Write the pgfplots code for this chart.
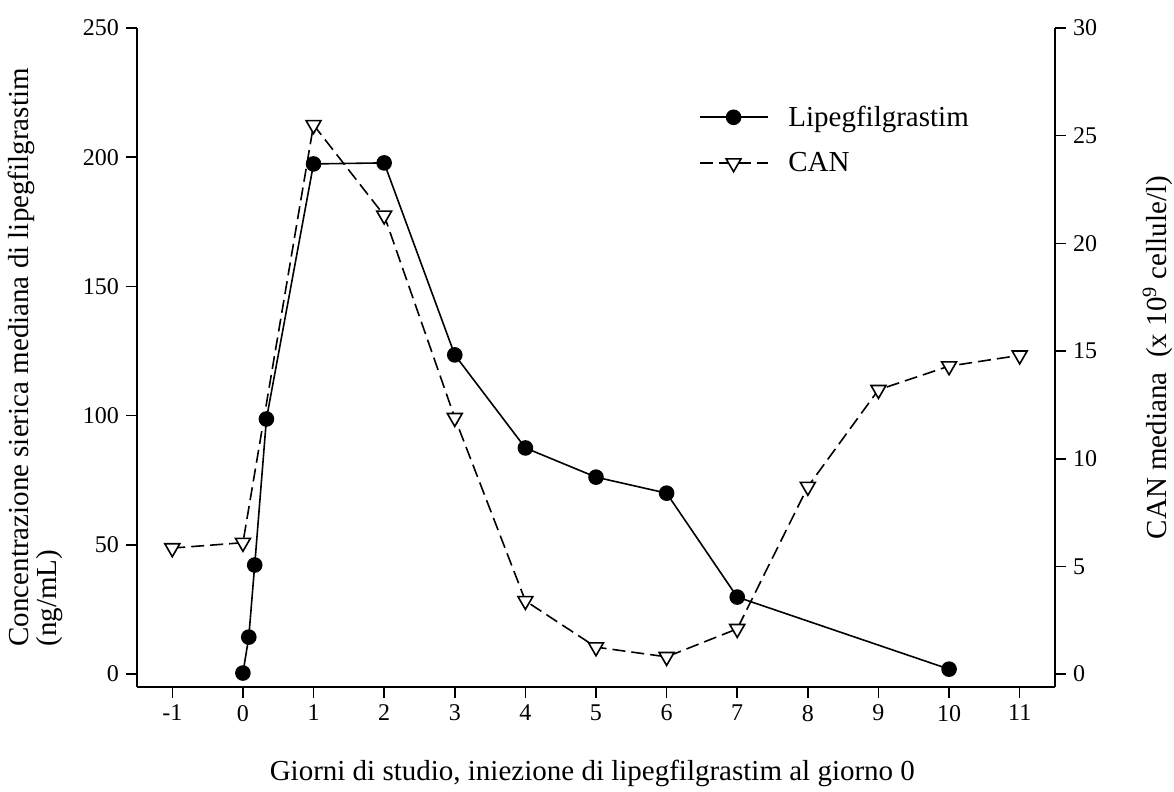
\documentclass[border=0pt]{standalone}
\usepackage{fontspec}
\setmainfont{Liberation Serif}
\usepackage{pgfplots}
\pgfplotsset{compat=1.18}
\begin{document}
\begin{tikzpicture}
\useasboundingbox (-68.5pt,-52.5pt) rectangle (518.5pt,343.5pt);
\pgfplotsset{
  common/.style={
    scale only axis, width=459pt, height=329.5pt,
    xmin=-1.5, xmax=11.5,
    axis line style={line width=0.8pt, -},
    tick align=outside, major tick length=5.5pt,
    tick style={line width=0.8pt, black},
    ticklabel style={font=\fontsize{12}{14}\selectfont},
  },
  legend image code/.code={\draw[mark repeat=2,mark phase=2,#1] plot coordinates {(0pt,0pt) (17pt,0pt) (34pt,0pt)};},
}
\begin{axis}[
  common,
  ymin=-5, ymax=250,
  axis x line*=bottom, axis y line*=left,
  xtick={-1,0,...,11}, xticklabels={-1,0,1,2,3,4,5,6,7,8,9,10,11},
  ytick={0,50,...,250}, yticklabels={0,50,100,150,200,250},
  xlabel={Giorni di studio, iniezione di lipegfilgrastim al giorno 0},
  xlabel style={at={(axis description cs:0.496,-0.131)}, anchor=center, font=\fontsize{14.5}{16}\selectfont},
  ylabel={Concentrazione sierica mediana di lipegfilgrastim\\(ng/mL)},
  ylabel style={at={(axis description cs:-0.111,0.5)}, anchor=center, align=left, font=\fontsize{14.5}{14}\selectfont},
]
\addplot[black, line width=0.8pt, mark=*, mark size=3.5pt] coordinates {
  (0,0.4) (0.083,14.3) (0.167,42.2) (0.333,98.7) (1,197.4) (2,197.8) (3,123.5)
  (4,87.5) (5,76.2) (6,70.0) (7,29.8) (10,1.9)
};
\end{axis}
\begin{axis}[
  common,
  ymin=-0.6, ymax=30,
  axis x line=none, axis y line*=right,
  ytick={0,5,...,30}, yticklabels={0,5,10,15,20,25,30},
  ylabel={CAN mediana\ \ (x 10\textsuperscript{9} cellule/l)},
  ylabel style={at={(axis description cs:1.112,0.5)}, anchor=center, font=\fontsize{14.5}{16}\selectfont},
  legend style={draw=none, fill=none, at={(axis description cs:0.605,0.895)}, anchor=north west,
    font=\fontsize{14.5}{16}\selectfont, row sep=7.5pt,
    /tikz/every odd column/.append style={column sep=8pt}},
  legend cell align=left,
]
\addlegendimage{black, line width=0.8pt, mark=*, mark size=3.5pt}
\addlegendentry{Lipegfilgrastim}
\addplot[black, line width=0.8pt, dash pattern=on 6.5pt off 3pt, mark=triangle*, mark size=4.3pt,
  mark options={solid, fill=white, draw=black, rotate=180}] coordinates {
  (-1,5.85) (0,6.1) (1,25.5) (2,21.3) (3,11.9) (4,3.4) (5,1.25) (6,0.8) (7,2.1)
  (8,8.7) (9,13.2) (10,14.3) (11,14.8)
};
\addlegendentry{CAN}
\end{axis}
\end{tikzpicture}
\end{document}
